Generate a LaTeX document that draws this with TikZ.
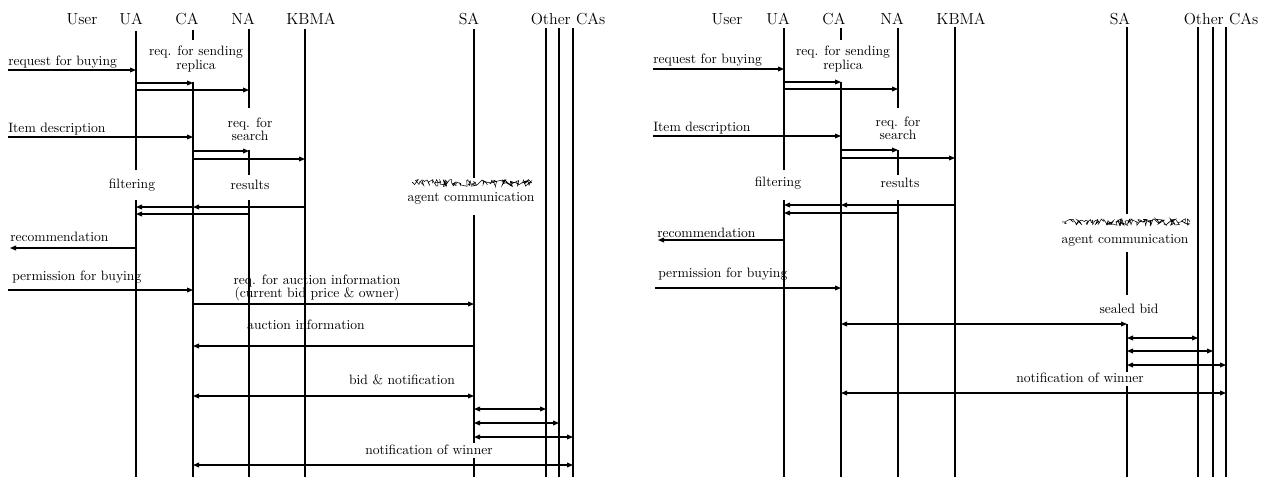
\documentclass[tikz,border=0pt]{standalone}
\usetikzlibrary{arrows.meta,calc,decorations.pathmorphing}
\newcommand\SqMsg[4][msg]{\draw[#1] ($(#2)+(0,#4)$) -- ($(#3)+(0,#4)$);}
\newcommand\SqSeg[3]{\draw[life] ($(#1)+(0,#2)$) -- ($(#1)+(0,#3)$);}
\begin{document}
\begin{tikzpicture}[x=0.75pt,y=-0.75pt,
  life/.style={line width=0.8pt},
  msg/.style={line width=0.8pt,-{Triangle[length=4.5pt,width=3.6pt]}},
  bimsg/.style={line width=0.8pt,{Triangle[length=4.5pt,width=3.6pt]}-{Triangle[length=4.5pt,width=3.6pt]}},
  hdr/.style={font=\fontsize{12}{14}\selectfont, inner sep=0pt, anchor=base},
  lbl/.style={font=\fontsize{10.2}{10}\selectfont, inner sep=0pt, align=center},
  lblw/.style={lbl, anchor=west},
  scrib/.style={line width=0.4pt, decorate, decoration={random steps, segment length=0.7pt, amplitude=2.6pt}}]
\useasboundingbox (0,0) rectangle (1267,479);
\fill[white] (0,0) rectangle (1267,479);

% ---------------- left panel ----------------
\coordinate (lIn) at (8,0);
\coordinate (lOut) at (10,0);
\coordinate (lUA) at (136,0);
\coordinate (lCA) at (193,0);
\coordinate (lNA) at (249,0);
\coordinate (lKB) at (305,0);
\coordinate (lSA) at (474,0);
\coordinate (lO1) at (546,0);
\coordinate (lO2) at (559,0);
\coordinate (lO3) at (573,0);

\node[hdr] (lhUser) at (82,24) {User};
\node[hdr] (lhUA) at (131,24) {UA};
\node[hdr] (lhCA) at (187,24) {CA};
\node[hdr] (lhNA) at (243,24) {NA};
\node[hdr] (lhKB) at (311,24) {KBMA};
\node[hdr] (lhSA) at (469,24) {SA};
\node[hdr] (lhOC) at (568,24) {Other CAs};

\SqSeg{lUA}{31}{170} \SqSeg{lUA}{200}{477}
\SqSeg{lCA}{30}{40} \SqSeg{lCA}{82}{477}
\SqSeg{lNA}{29}{108} \SqSeg{lNA}{150}{175} \SqSeg{lNA}{200}{477}
\SqSeg{lKB}{29}{477}
\SqSeg{lSA}{29}{178} \SqSeg{lSA}{215}{443} \SqSeg{lSA}{458}{477}
\SqSeg{lO1}{28}{477} \SqSeg{lO2}{28}{477} \SqSeg{lO3}{28}{477}

\node[lblw] (ll1) at (8,62) {request for buying};
\node[lbl] (ll2) at (196,59) {req. for sending\\replica};
\node[lblw] (ll3) at (8,129) {Item description};
\node[lbl] (ll4) at (250,129) {req. for\\search};
\node[lbl] (ll5) at (132,185) {filtering};
\node[lbl] (ll6) at (250,185) {results};
\pgfmathsetseed{7}
\draw[scrib] (412,183) -- (532,183);
\node[lbl] (ll7) at (471,198) {agent communication};
\node[lblw] (ll8) at (10,237) {recommendation};
\node[lblw] (ll9) at (12,277) {permission for buying};
\node[lbl] (ll10) at (317,288) {req. for auction information\\(current bid price \& owner)};
\node[lbl] (ll11) at (306,325) {auction information};
\node[lbl] (ll12) at (402,380) {bid \& notification};
\node[lbl] (ll13) at (429,450) {notification of winner};

\SqMsg{lIn}{lUA}{70}
\SqMsg{lUA}{lCA}{83}
\SqMsg{lUA}{lNA}{90}
\SqMsg{lIn}{lCA}{137}
\SqMsg{lCA}{lNA}{151}
\SqMsg{lCA}{lKB}{159}
\SqMsg{lKB}{lCA}{207}
\SqMsg{lCA}{lUA}{207}
\SqMsg{lNA}{lUA}{214}
\SqMsg{lUA}{lOut}{248}
\SqMsg{lIn}{lCA}{290}
\SqMsg{lCA}{lSA}{304}
\SqMsg{lSA}{lCA}{346}
\SqMsg[bimsg]{lCA}{lSA}{396}
\SqMsg[bimsg]{lSA}{lO1}{409}
\SqMsg[bimsg]{lSA}{lO2}{423}
\SqMsg[bimsg]{lSA}{lO3}{437}
\SqMsg[bimsg]{lCA}{lO3}{465}

% ---------------- right panel ----------------
\coordinate (rIn) at (653,0);
\coordinate (rIn2) at (655,0);
\coordinate (rOut) at (658,0);
\coordinate (rUA) at (784,0);
\coordinate (rCA) at (841,0);
\coordinate (rNA) at (898,0);
\coordinate (rKB) at (955,0);
\coordinate (rSA) at (1127,0);
\coordinate (rO1) at (1198,0);
\coordinate (rO2) at (1213,0);
\coordinate (rO3) at (1226,0);

\node[hdr] (rhUser) at (727,24) {User};
\node[hdr] (rhUA) at (778,24) {UA};
\node[hdr] (rhCA) at (834,24) {CA};
\node[hdr] (rhNA) at (892,24) {NA};
\node[hdr] (rhKB) at (961,24) {KBMA};
\node[hdr] (rhSA) at (1120,24) {SA};
\node[hdr] (rhOC) at (1221,24) {Other CAs};

\SqSeg{rUA}{28}{170} \SqSeg{rUA}{200}{477}
\SqSeg{rCA}{28}{40} \SqSeg{rCA}{82}{477}
\SqSeg{rNA}{28}{108} \SqSeg{rNA}{150}{175} \SqSeg{rNA}{200}{477}
\SqSeg{rKB}{27}{477}
\SqSeg{rSA}{27}{214} \SqSeg{rSA}{252}{295} \SqSeg{rSA}{324}{372} \SqSeg{rSA}{386}{477}
\SqSeg{rO1}{27}{477} \SqSeg{rO2}{27}{477} \SqSeg{rO3}{27}{477}

\node[lblw] (rl1) at (653,60) {request for buying};
\node[lbl] (rl2) at (843,59) {req. for sending\\replica};
\node[lblw] (rl3) at (653,128) {Item description};
\node[lbl] (rl4) at (898,128) {req. for\\search};
\node[lbl] (rl5) at (778,183) {filtering};
\node[lbl] (rl6) at (900,183) {results};
\pgfmathsetseed{11}
\draw[scrib] (1062,222) -- (1190,222);
\node[lbl] (rl7) at (1125,240) {agent communication};
\node[lblw] (rl8) at (657,233) {recommendation};
\node[lblw] (rl9) at (658,274) {permission for buying};
\node[lbl] (rl10) at (1129,309) {sealed bid};
\node[lbl] (rl11) at (1080,378) {notification of winner};

\SqMsg{rIn}{rUA}{69}
\SqMsg{rUA}{rCA}{82}
\SqMsg{rUA}{rNA}{89}
\SqMsg{rIn}{rCA}{136}
\SqMsg{rCA}{rNA}{150}
\SqMsg{rCA}{rKB}{158}
\SqMsg{rKB}{rCA}{205}
\SqMsg{rCA}{rUA}{205}
\SqMsg{rNA}{rUA}{213}
\SqMsg{rUA}{rOut}{240}
\SqMsg{rIn2}{rCA}{288}
\SqMsg[bimsg]{rCA}{rSA}{324}
\SqMsg[bimsg]{rSA}{rO1}{338}
\SqMsg[bimsg]{rSA}{rO2}{351}
\SqMsg[bimsg]{rSA}{rO3}{365}
\SqMsg[bimsg]{rCA}{rO3}{393}
\end{tikzpicture}
\end{document}
